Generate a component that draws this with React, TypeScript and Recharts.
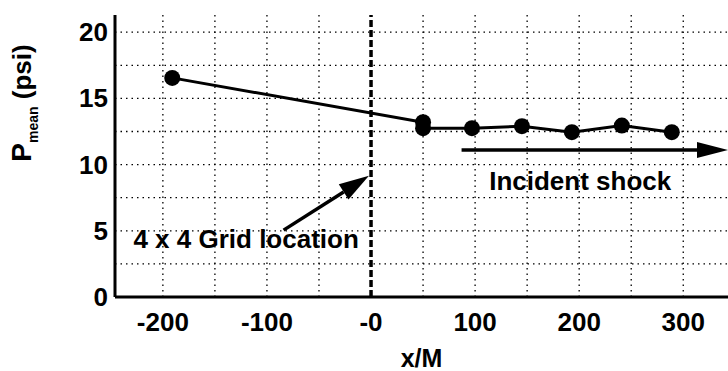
import React from "react";
import {
  LineChart, Line, XAxis, YAxis, ReferenceLine, ReferenceDot,
} from "recharts";

// x/M station and mean pressure (psi)
const xM = [-191, 50, 50, 97, 145, 193, 241, 289];
const pMean = [16.55, 13.2, 12.75, 12.75, 12.9, 12.45, 12.95, 12.45];

const xTicks = [-200, -100, 0, 100, 200, 300];
const yTicks = [0, 5, 10, 15, 20];
const xGrid = [-200, -150, -100, -50, 50, 100, 150, 200, 250, 300];
const yGrid = [2.5, 5, 7.5, 10, 12.5, 15, 17.5, 20];

// annotations (data coords)
const gridArrowX = [-84, -2];
const gridArrowY = [5.05, 9.15];
const shockArrowX = [87, 343];
const shockArrowY = [11.1, 11.1];
const gridNote = { x: -120, y: 4.35, text: "4 x 4 Grid location" };
const shockNote = { x: 201, y: 8.75, text: "Incident shock" };

const data = xM.map((x, i) => ({ x, p: pMean[i] }));

const FONT = "'Liberation Sans', Arial, Helvetica, sans-serif";

function arrow(headLen: number, headHalf: number) {
  return (props: any) => {
    const { x1, y1, x2, y2 } = props;
    const dx = x2 - x1;
    const dy = y2 - y1;
    const len = Math.sqrt(dx * dx + dy * dy) || 1;
    const ux = dx / len;
    const uy = dy / len;
    const bx = x2 - ux * headLen;
    const by = y2 - uy * headLen;
    const pts = [
      `${x2},${y2}`,
      `${bx - uy * headHalf},${by + ux * headHalf}`,
      `${bx + uy * headHalf},${by - ux * headHalf}`,
    ].join(" ");
    return (
      <g>
        <line x1={x1} y1={y1} x2={bx} y2={by} stroke="#000" strokeWidth={3.5} />
        <polygon points={pts} fill="#000" />
      </g>
    );
  };
}

function note(text: string) {
  return (props: any) => (
    <text
      x={props.cx}
      y={props.cy}
      textAnchor="middle"
      dominantBaseline="central"
      fontFamily={FONT}
      fontWeight="bold"
      fontSize={26}
      fill="#000"
    >
      {text}
    </text>
  );
}

function XTick(props: any) {
  const { x, y, payload } = props;
  const v = payload.value;
  return (
    <text x={x} y={y + 22} textAnchor="middle" fontFamily={FONT} fontWeight="bold" fontSize={26} fill="#000">
      {v === 0 ? "-0" : String(v)}
    </text>
  );
}

function YTick(props: any) {
  const { x, y, payload } = props;
  return (
    <text x={x + 1} y={y + 9} textAnchor="end" fontFamily={FONT} fontWeight="bold" fontSize={26} fill="#000">
      {String(payload.value)}
    </text>
  );
}

function YLabel(props: any) {
  const vb = props.viewBox || { x: 0, y: 0 };
  const cx = vb.x + 31;
  const cy = vb.y + 88;
  return (
    <text
      x={cx}
      y={cy}
      transform={`rotate(-90, ${cx}, ${cy})`}
      textAnchor="middle"
      fontFamily={FONT}
      fontWeight="bold"
      fill="#000"
    >
      <tspan fontSize={28}>P</tspan>
      <tspan fontSize={14} dy={7}>mean</tspan>
      <tspan fontSize={26} dy={-7}> (psi)</tspan>
    </text>
  );
}

export default function App() {
  return (
    <div style={{ position: "absolute", left: 0, top: 0, background: "#fff" }}>
      <LineChart
        width={728}
        height={371}
        data={data}
        margin={{ top: 15, right: 0, left: 0, bottom: 0 }}
      >
        <XAxis
          dataKey="x"
          type="number"
          domain={[-246, 343]}
          ticks={xTicks}
          allowDataOverflow
          tick={<XTick />}
          tickLine={false}
          tickMargin={6}
          axisLine={{ stroke: "#000", strokeWidth: 3 }}
          height={74}
          label={{
            value: "x/M",
            position: "insideBottom",
            offset: 4,
            fontSize: 25,
            fontWeight: "bold",
            fill: "#000",
            fontFamily: FONT,
          }}
        />
        <YAxis
          type="number"
          domain={[0, 21.3]}
          ticks={yTicks}
          allowDataOverflow
          tick={<YTick />}
          tickLine={false}
          tickMargin={2}
          axisLine={{ stroke: "#000", strokeWidth: 3 }}
          width={115}
          label={<YLabel />}
        />
        {xGrid.map((v) => (
          <ReferenceLine key={"gx" + v} x={v} stroke="#000" strokeWidth={1.3} strokeDasharray="1.5 4" />
        ))}
        {yGrid.map((v) => (
          <ReferenceLine key={"gy" + v} y={v} stroke="#000" strokeWidth={1.3} strokeDasharray="1.5 4" />
        ))}
        <ReferenceLine x={0} stroke="#000" strokeWidth={3.5} strokeDasharray="7 3" />
        <ReferenceLine
          segment={[
            { x: gridArrowX[0], y: gridArrowY[0] },
            { x: gridArrowX[1], y: gridArrowY[1] },
          ]}
          ifOverflow="visible"
          shape={arrow(30, 9)}
        />
        <ReferenceLine
          segment={[
            { x: shockArrowX[0], y: shockArrowY[0] },
            { x: shockArrowX[1], y: shockArrowY[1] },
          ]}
          ifOverflow="visible"
          shape={arrow(31, 8)}
        />
        <ReferenceDot x={gridNote.x} y={gridNote.y} r={0} shape={note(gridNote.text)} />
        <ReferenceDot x={shockNote.x} y={shockNote.y} r={0} shape={note(shockNote.text)} />
        <Line
          type="linear"
          dataKey="p"
          stroke="#000"
          strokeWidth={3}
          dot={{ r: 8, fill: "#000", stroke: "#000", strokeWidth: 0 }}
          isAnimationActive={false}
        />
      </LineChart>
    </div>
  );
}
